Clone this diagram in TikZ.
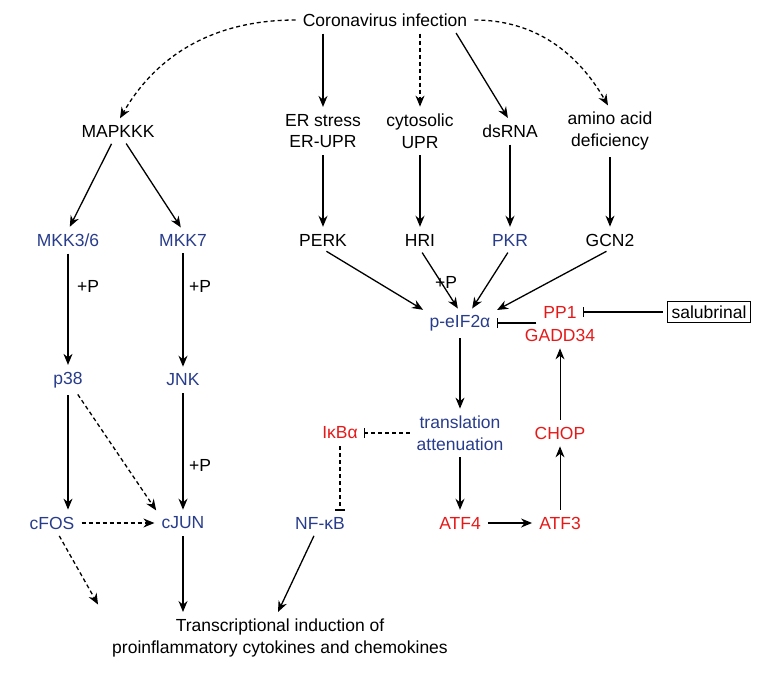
\documentclass[tikz,border=0pt]{standalone}
\usepackage{fontspec}
\setmainfont{Liberation Sans}
\usetikzlibrary{arrows.meta}
\definecolor{bl}{RGB}{40,60,140}
\definecolor{rd}{RGB}{230,25,25}
\begin{document}
\begin{tikzpicture}[x=1pt,y=-1pt,
 every node/.style={font=\fontsize{17.5}{21.5}\selectfont,align=center,inner sep=3pt},
 b/.style={text=bl}, r/.style={text=rd},
 ar/.style={-{Stealth[length=11pt,width=9pt]},line width=1.3pt,shorten <=4pt,shorten >=4pt},
 inh/.style={-{Bar[width=10pt]},line width=1.3pt,shorten <=4pt,shorten >=3pt},
 da/.style={dash pattern=on 4pt off 3pt}]
\useasboundingbox (0,0) rectangle (779,679);
\node (cor) at (385,20) {Coronavirus infection};
\node (map) at (118,131) {MAPKKK};
\node (er) at (323,131) {ER stress\\ER-UPR};
\node (cyt) at (420,131) {cytosolic\\UPR};
\node (ds) at (510,131) {dsRNA};
\node (aa) at (610,131) {amino acid\\deficiency};
\node[b] (mkk36) at (68,240) {MKK3/6};
\node[b] (mkk7) at (183,240) {MKK7};
\node (perk) at (323,240) {PERK};
\node (hri) at (420,240) {HRI};
\node[b] (pkr) at (510,240) {PKR};
\node (gcn) at (610,240) {GCN2};
\node (p0) at (446,282) {+P};
\node[b] (eif) at (460,323) {p-eIF2α};
\node[r] (pp1) at (560,312) {PP1};
\node[r] (gadd) at (560,335) {GADD34};
\node[draw,line width=1.2pt,inner sep=4pt] (sal) at (709,312) {salubrinal};
\node (p1) at (88,286) {+P};
\node (p2) at (200,286) {+P};
\node[b] (p38) at (68,380) {p38};
\node[b] (jnk) at (183,380) {JNK};
\node[r] (ikb) at (340,433) {IκBα};
\node[b] (tr) at (460,433) {translation\\attenuation};
\node[r] (chop) at (560,433) {CHOP};
\node (p3) at (200,465) {+P};
\node[b] (cfos) at (52,523) {cFOS};
\node[b] (cjun) at (183,523) {cJUN};
\node[b] (nfkb) at (320,523) {NF-κB};
\node[r] (atf4) at (460,523) {ATF4};
\node[r] (atf3) at (560,523) {ATF3};
\node (ti) at (280,638) {Transcriptional induction of\\proinflammatory cytokines and chemokines};
\coordinate (t1) at (100,608);
\coordinate (t2) at (183,612);
\coordinate (t3) at (278,612);

\draw[ar,da] (cor.west) to[out=180,in=60] (map.north);
\draw[ar] (cor.south-|er) -- (er);
\draw[ar,da] (cor.south-|cyt) -- (cyt);
\draw[ar] (cor.south-|454,0) -- (ds.north);
\draw[ar,da] (cor.east) to[out=0,in=120] (aa.north);
\draw[ar] (map) -- (mkk36.north);
\draw[ar] (map) -- (mkk7.north);
\draw[ar] (er) -- (perk);
\draw[ar] (cyt) -- (hri);
\draw[ar] (ds) -- (pkr);
\draw[ar] (aa) -- (gcn);
\draw[ar] (perk.south) -- (eif.north west);
\draw[ar] (hri.south) -- (eif.north);
\draw[ar] (pkr.south) -- ([xshift=10pt]eif.north);
\draw[ar] (gcn.south) -- (eif.north east);
\draw[inh] (pp1.west|-eif) -- (eif.east);
\draw[inh] (sal.west) -- (pp1.east);
\draw[ar] (mkk36) -- (p38);
\draw[ar] (mkk7) -- (jnk);
\draw[ar] (p38) -- (p38|-cfos.north);
\draw[ar,da] (p38) -- (cjun.north west);
\draw[ar] (jnk) -- (cjun);
\draw[ar,da] (cfos) -- (cjun);
\draw[ar] (eif) -- (tr);
\draw[inh,da] (tr.west) -- (ikb.east);
\draw[inh,da] (ikb.south) -- (ikb.south|-nfkb.north);
\draw[ar] (tr) -- (atf4);
\draw[ar] (atf4) -- (atf3);
\draw[ar,line width=1pt] (atf3) -- (chop);
\draw[ar,line width=1pt] (chop) -- (gadd);
\draw[ar,da] (cfos) -- (t1);
\draw[ar,shorten >=0pt] (cjun) -- (t2);
\draw[ar,shorten >=0pt] (nfkb) -- (t3);
\end{tikzpicture}
\end{document}
